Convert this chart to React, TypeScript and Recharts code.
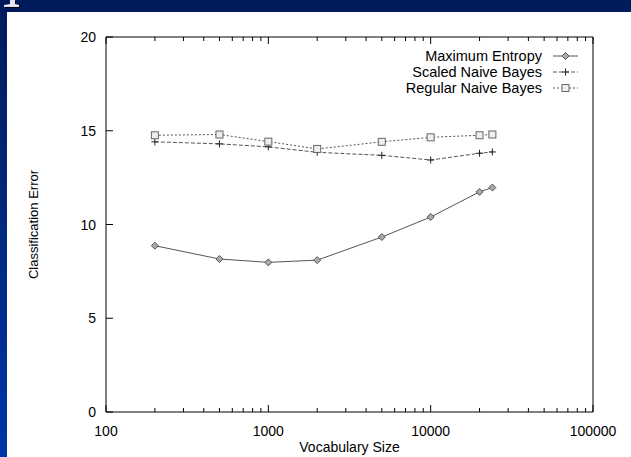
import React from 'react';
import { LineChart, Line, XAxis, YAxis, Label } from 'recharts';

const vocabSizes = [200, 500, 1000, 2000, 5000, 10000, 20000, 24000];
const maxEntropy = [8.87, 8.16, 7.98, 8.1, 9.33, 10.4, 11.74, 11.97];
const scaledNaiveBayes = [14.41, 14.3, 14.14, 13.85, 13.69, 13.44, 13.8, 13.87];
const regularNaiveBayes = [14.76, 14.8, 14.42, 14.03, 14.41, 14.65, 14.76, 14.8];

const xMajorTicks = [100, 1000, 10000, 100000];
const xMinorTicks = [
  200, 300, 400, 500, 600, 700, 800, 900,
  2000, 3000, 4000, 5000, 6000, 7000, 8000, 9000,
  20000, 30000, 40000, 50000, 60000, 70000, 80000, 90000,
];
const yTicks = [0, 5, 10, 15, 20];
const seriesNames = ['Maximum Entropy', 'Scaled Naive Bayes', 'Regular Naive Bayes'];
const xTitle = 'Vocabulary Size';
const yTitle = 'Classification Error';

const data = vocabSizes.map((v, i) => ({
  x: v,
  me: maxEntropy[i],
  snb: scaledNaiveBayes[i],
  rnb: regularNaiveBayes[i],
}));

const allXTicks = [...xMajorTicks, ...xMinorTicks].sort((a, b) => a - b);
const FONT = '"Liberation Sans", Arial, Helvetica, sans-serif';
const LINE_COLOR = '#555';

const BottomTick = (p: any) => {
  const { x, y, payload } = p;
  const major = xMajorTicks.includes(payload.value);
  return (
    <g>
      <line x1={x} x2={x} y1={y} y2={y - (major ? 7 : 4)} stroke="#000" />
      {major && (
        <text x={x} y={y + 24} textAnchor="middle" fontSize={14} fontFamily={FONT} fill="#000">
          {payload.value}
        </text>
      )}
    </g>
  );
};

const TopTick = (p: any) => {
  const { x, y, payload } = p;
  const major = xMajorTicks.includes(payload.value);
  return <line x1={x} x2={x} y1={y} y2={y + (major ? 7 : 4)} stroke="#000" />;
};

const LeftTick = (p: any) => {
  const { x, y, payload } = p;
  return (
    <g>
      <line x1={x} x2={x + 7} y1={y} y2={y} stroke="#000" />
      <text x={x - 10} y={y + 5} textAnchor="end" fontSize={14} fontFamily={FONT} fill="#000">
        {payload.value}
      </text>
    </g>
  );
};

const RightTick = (p: any) => {
  const { x, y } = p;
  return <line x1={x} x2={x - 7} y1={y} y2={y} stroke="#000" />;
};

const Diamond = (p: any) => {
  const { cx, cy, index } = p;
  if (cx == null || cy == null) return <g key={`d${index}`} />;
  const r = 3.5;
  return (
    <polygon
      key={`d${index}`}
      points={`${cx},${cy - r} ${cx + r},${cy} ${cx},${cy + r} ${cx - r},${cy}`}
      fill="#aaa"
      stroke="#555"
      strokeWidth={1}
    />
  );
};

const Plus = (p: any) => {
  const { cx, cy, index } = p;
  if (cx == null || cy == null) return <g key={`p${index}`} />;
  const r = 3.5;
  return (
    <g key={`p${index}`}>
      <line x1={cx - r} x2={cx + r} y1={cy} y2={cy} stroke="#222" />
      <line x1={cx} x2={cx} y1={cy - r} y2={cy + r} stroke="#222" />
    </g>
  );
};

const Square = (p: any) => {
  const { cx, cy, index } = p;
  if (cx == null || cy == null) return <g key={`s${index}`} />;
  const r = 3.5;
  return (
    <rect key={`s${index}`} x={cx - r} y={cy - r} width={2 * r} height={2 * r} fill="#eee" stroke="#666" strokeWidth={1} />
  );
};

const legendStyles = [
  { dash: undefined as string | undefined, marker: 'diamond' },
  { dash: '4 2', marker: 'plus' },
  { dash: '2 2', marker: 'square' },
];

const LegendSample = ({ dash, marker }: { dash?: string; marker: string }) => (
  <svg width={25} height={10} style={{ display: 'block' }}>
    <line x1={0} x2={25} y1={5} y2={5} stroke={LINE_COLOR} strokeDasharray={dash} />
    {marker === 'diamond' && <polygon points="12.5,1.5 16,5 12.5,8.5 9,5" fill="#aaa" stroke="#555" />}
    {marker === 'plus' && (
      <g>
        <line x1={9} x2={16} y1={5} y2={5} stroke="#222" />
        <line x1={12.5} x2={12.5} y1={1.5} y2={8.5} stroke="#222" />
      </g>
    )}
    {marker === 'square' && <rect x={9} y={1.5} width={7} height={7} fill="#eee" stroke="#666" />}
  </svg>
);

export default function App() {
  return (
    <div
      style={{
        position: 'fixed',
        left: 0,
        top: 0,
        width: 631,
        height: 457,
        overflow: 'hidden',
        background: 'linear-gradient(to bottom, #001b5a 0%, #00287e 50%, #0036a6 100%)',
      }}
    >
      <svg width={24} height={12} style={{ position: 'absolute', left: 0, top: 0 }}>
        <path d="M10 0 L15 0 L15 4 L19 5 L19 7 L4 7 L4 5 L10 4 Z" fill="#000" transform="translate(1,1)" />
        <path d="M10 0 L15 0 L15 4 L19 5 L19 7 L4 7 L4 5 L10 4 Z" fill="#e4e4f4" />
      </svg>
      <div style={{ position: 'absolute', left: 7, top: 12, right: 0, bottom: 0, background: '#fff' }} />
      <div style={{ position: 'absolute', left: 0, top: 0 }}>
        <LineChart width={631} height={457} data={data} margin={{ top: 36, right: 37, bottom: 0, left: 26 }}>
          <XAxis
            xAxisId="b"
            dataKey="x"
            type="number"
            scale="log"
            domain={[100, 100000]}
            allowDataOverflow
            ticks={allXTicks}
            interval={0}
            height={45}
            tickSize={0}
            tickMargin={0}
            tickLine={false}
            axisLine={{ stroke: '#000' }}
            tick={BottomTick}
          >
            <Label
              content={(props: any) => {
                const vb = props.viewBox;
                return (
                  <text x={vb.x + vb.width / 2} y={452} textAnchor="middle" fontSize={14} fontFamily={FONT} fill="#000">
                    {xTitle}
                  </text>
                );
              }}
            />
          </XAxis>
          <XAxis
            xAxisId="t"
            dataKey="x"
            type="number"
            scale="log"
            orientation="top"
            domain={[100, 100000]}
            allowDataOverflow
            ticks={allXTicks}
            interval={0}
            height={1}
            tickSize={0}
            tickMargin={0}
            tickLine={false}
            axisLine={{ stroke: '#000' }}
            tick={TopTick}
          />
          <YAxis
            yAxisId="l"
            type="number"
            domain={[0, 20]}
            ticks={yTicks}
            interval={0}
            width={80}
            tickSize={0}
            tickMargin={0}
            tickLine={false}
            axisLine={{ stroke: '#000' }}
            tick={LeftTick}
          >
            <Label
              content={(props: any) => {
                const vb = props.viewBox;
                const cx = 33;
                const cy = vb.y + vb.height / 2;
                return (
                  <text
                    x={cx}
                    y={cy}
                    transform={`rotate(-90 ${cx} ${cy})`}
                    textAnchor="middle"
                    dominantBaseline="central"
                    fontSize={13}
                    fontFamily={FONT}
                    fill="#000"
                  >
                    {yTitle}
                  </text>
                );
              }}
            />
          </YAxis>
          <YAxis
            yAxisId="r"
            orientation="right"
            type="number"
            domain={[0, 20]}
            ticks={yTicks}
            interval={0}
            width={1}
            tickSize={0}
            tickMargin={0}
            tickLine={false}
            axisLine={{ stroke: '#000' }}
            tick={RightTick}
          />
          <Line
            xAxisId="b"
            yAxisId="l"
            dataKey="me"
            stroke={LINE_COLOR}
            strokeWidth={1}
            dot={Diamond}
            activeDot={false}
            isAnimationActive={false}
          />
          <Line
            xAxisId="b"
            yAxisId="l"
            dataKey="snb"
            stroke={LINE_COLOR}
            strokeWidth={1}
            strokeDasharray="4 2"
            dot={Plus}
            activeDot={false}
            isAnimationActive={false}
          />
          <Line
            xAxisId="b"
            yAxisId="l"
            dataKey="rnb"
            stroke={LINE_COLOR}
            strokeWidth={1}
            strokeDasharray="2 2"
            dot={Square}
            activeDot={false}
            isAnimationActive={false}
          />
        </LineChart>
      </div>
      <div style={{ position: 'absolute', left: 338, top: 47.5, width: 240, fontFamily: FONT, fontSize: 14.5 }}>
        {seriesNames.map((name, i) => (
          <div
            key={name}
            style={{ display: 'flex', justifyContent: 'flex-end', alignItems: 'center', height: 16.3, lineHeight: '16px' }}
          >
            <span style={{ color: '#000', whiteSpace: 'nowrap' }}>{name}</span>
            <span style={{ width: 11 }} />
            <LegendSample dash={legendStyles[i].dash} marker={legendStyles[i].marker} />
          </div>
        ))}
      </div>
    </div>
  );
}
